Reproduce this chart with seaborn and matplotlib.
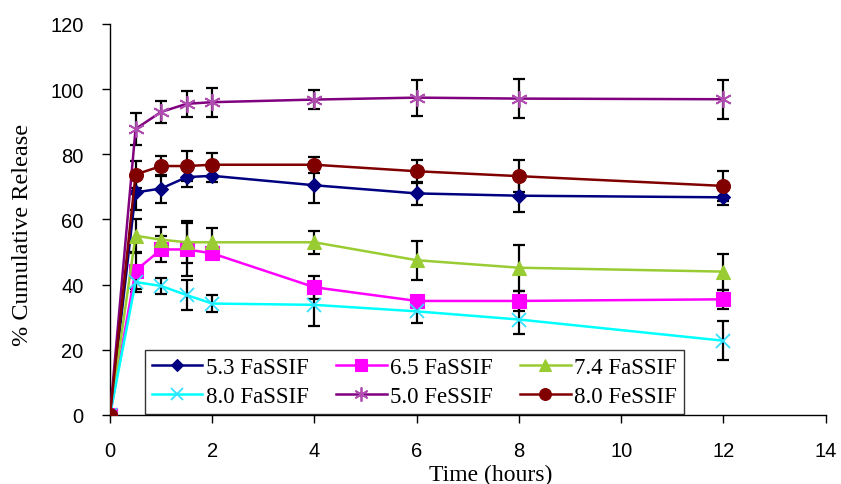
import matplotlib
matplotlib.use("Agg")
import matplotlib.pyplot as plt
import numpy as np
import pandas as pd
import seaborn as sns

# 数据
time_h = [0, 0.5, 1, 1.5, 2, 4, 6, 8, 12]

names = ["5.3 FaSSIF", "6.5 FaSSIF", "7.4 FaSSIF",
         "8.0 FaSSIF", "5.0 FeSSIF", "8.0 FeSSIF"]

fa53 = [0, 68.3, 69.5, 73.0, 73.4, 70.5, 68.0, 67.3, 66.8]
fa65 = [0, 44.3, 50.8, 50.8, 49.6, 39.2, 35.0, 35.0, 35.5]
fa74 = [0, 55.0, 53.8, 53.0, 53.0, 53.0, 47.5, 45.2, 44.0]
fa80 = [0, 40.8, 39.6, 36.8, 34.2, 33.8, 31.8, 29.3, 22.8]
fe50 = [0, 87.8, 93.0, 95.5, 96.0, 96.8, 97.4, 97.1, 96.9]
fe80 = [0, 73.8, 76.4, 76.4, 76.8, 76.8, 74.8, 73.3, 70.3]

err53 = [0, 5.5, 4.3, 3.0, 2.0, 5.5, 3.5, 5.0, 2.5]
err65 = [0, 5.5, 4.0, 8.0, 1.5, 3.5, 1.5, 3.0, 3.0]
err74 = [0, 5.0, 4.0, 6.5, 4.5, 3.5, 6.0, 7.0, 5.5]
err80 = [0, 3.0, 2.5, 4.5, 2.5, 6.5, 3.5, 4.5, 6.0]
err50 = [0, 5.0, 3.5, 4.0, 4.5, 3.0, 5.5, 6.0, 6.0]
err80e = [0, 4.0, 3.0, 4.5, 3.5, 2.5, 3.5, 5.0, 4.5]

series = [fa53, fa65, fa74, fa80, fe50, fe80]
errors = [err53, err65, err74, err80, err50, err80e]

colors = ["#000080", "#FF00FF", "#99CC33", "#00FFFF", "#800080", "#800000"]
marker_face = ["#000080", "#FF00FF", "#99CC33", "#33E0FF", "#B04DB0", "#800000"]
markers = ["D", "s", "^", "x", (6, 2, 0), "o"]
msizes = [7, 10, 10, 10, 12, 10]

df = pd.DataFrame({
    "Time": np.tile(time_h, len(names)),
    "Release": np.concatenate(series),
    "Series": np.repeat(names, len(time_h)),
})

plt.rcParams["font.family"] = ["Liberation Serif", "DejaVu Serif"]

fig = plt.figure(figsize=(8.41, 4.85), dpi=100)
ax = fig.add_axes([0.1308, 0.1423, 0.851, 0.8062])

# 误差棒（黑色）
for vals, err in zip(series, errors):
    ax.errorbar(time_h, vals, yerr=err, fmt="none", ecolor="black",
                elinewidth=1.6, capsize=4.5, capthick=1.6, zorder=2)

# 绘制曲线
for i, name in enumerate(names):
    sub = df[df["Series"] == name]
    sns.lineplot(data=sub, x="Time", y="Release", ax=ax, color=colors[i],
                 marker=markers[i], markersize=msizes[i],
                 markerfacecolor=marker_face[i], markeredgecolor=marker_face[i],
                 markeredgewidth=1.3 if i in (3, 4) else 0.8,
                 linewidth=1.8, label=name, zorder=3, legend=False)

handles = [plt.Line2D([], [], color=colors[i], marker=markers[i],
                      markersize=msizes[i] * 0.85, markerfacecolor=marker_face[i],
                      markeredgecolor=marker_face[i],
                      markeredgewidth=1.3 if i in (3, 4) else 0.8,
                      linewidth=1.8) for i in range(len(names))]
order = [0, 3, 1, 4, 2, 5]
leg = ax.legend([handles[k] for k in order], [names[k] for k in order],
                ncol=3, loc="lower left", bbox_to_anchor=(0.049, 0.003),
                fontsize=16.5, frameon=True, fancybox=False,
                edgecolor="black", handlelength=2.2, handletextpad=0.15,
                borderaxespad=0, borderpad=0.3, columnspacing=1.2,
                labelspacing=0.35)
leg.get_frame().set_linewidth(1.0)

ax.set_xlim(0, 14)
ax.set_ylim(0, 120)
ax.set_xticks(range(0, 15, 2))
ax.set_yticks(range(0, 121, 20))
for lbl in ax.get_xticklabels() + ax.get_yticklabels():
    lbl.set_fontfamily(["Liberation Sans", "DejaVu Sans"])
    lbl.set_fontsize(14.5)
ax.tick_params(direction="out", length=6, width=1, pad=13)
ax.set_xlabel("Time (hours)", fontsize=17)
ax.xaxis.set_label_coords(0.532, -0.125)
ax.set_ylabel("% Cumulative Release", fontsize=17.5)
ax.yaxis.set_label_coords(-0.107, 0.463)
sns.despine(ax=ax)
ax.spines["left"].set_linewidth(1.0)
ax.spines["bottom"].set_linewidth(1.0)

fig.savefig("out.png", dpi=100)
